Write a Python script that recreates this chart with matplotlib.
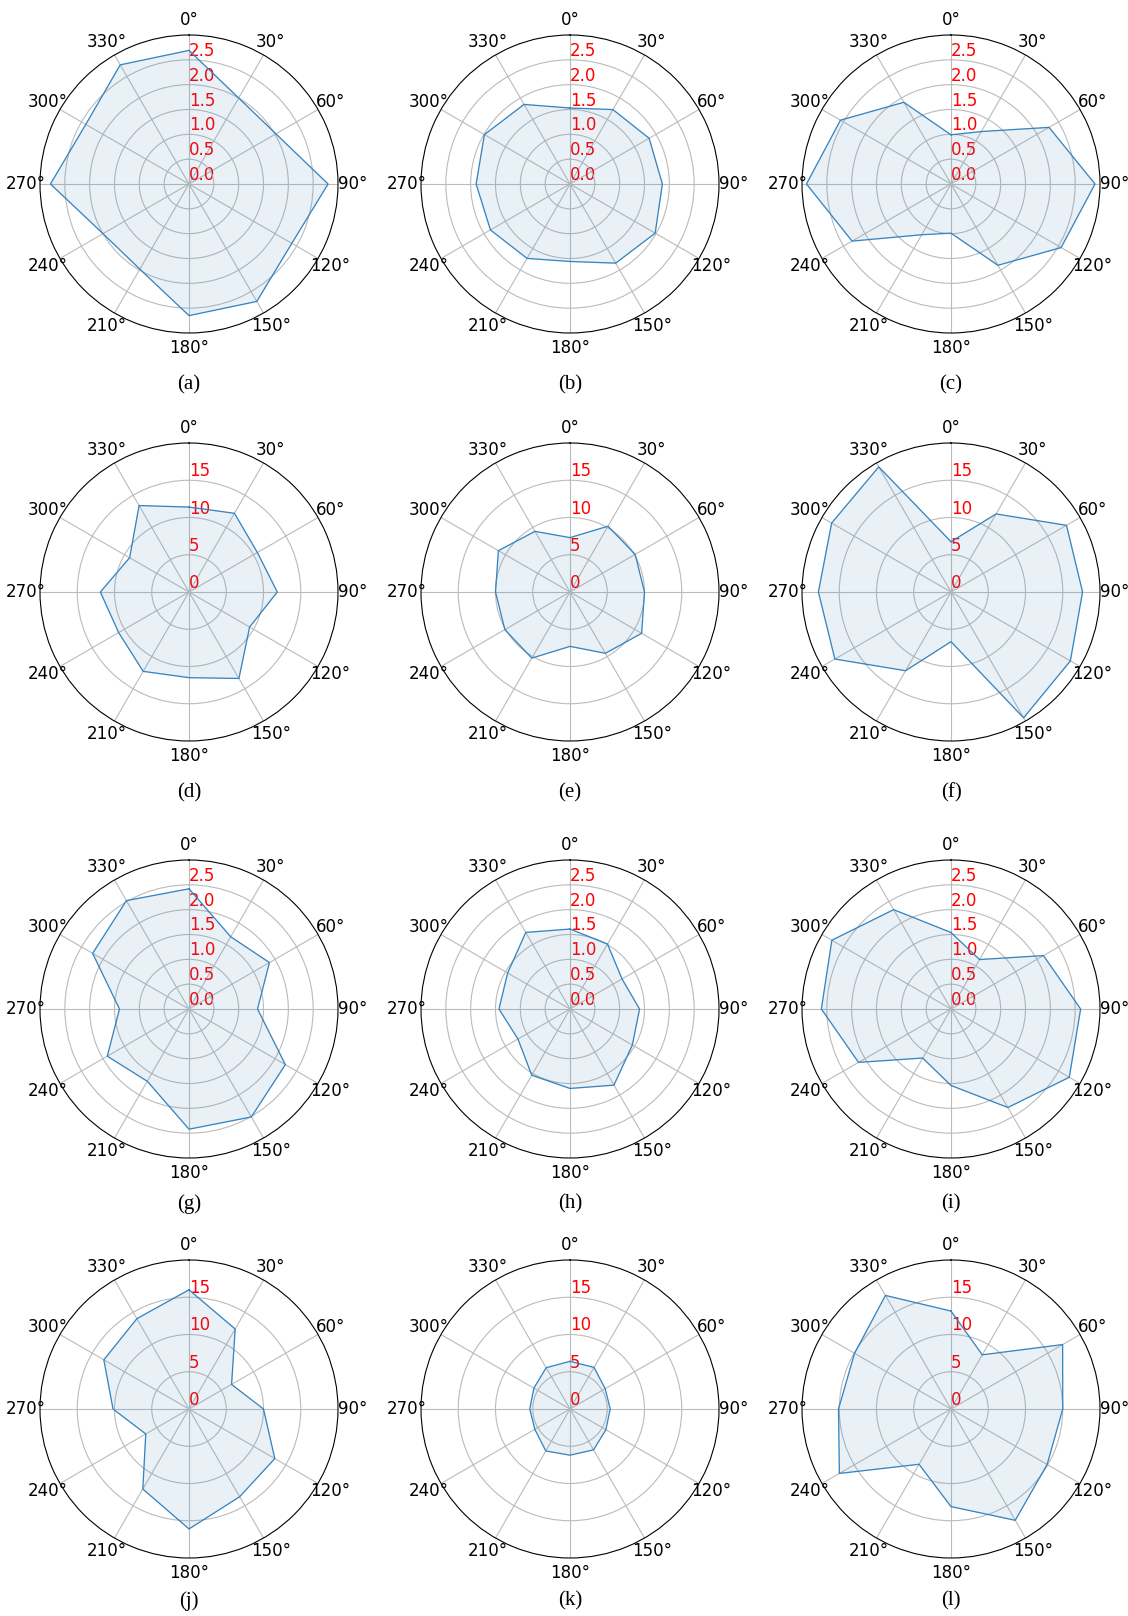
import numpy as np
import matplotlib
matplotlib.use("Agg")
import matplotlib.pyplot as plt

plt.rcParams["font.family"] = ["DejaVu Sans"]

# direction bins (degrees), one value per bin
angulos = np.arange(0, 360, 30)

val_a = [2.69, 2.00, 2.02, 2.80, 2.39, 2.73, 2.65, 1.98, 2.00, 2.79, 2.40, 2.77]
val_b = [1.53, 1.73, 1.84, 1.86, 1.98, 1.84, 1.56, 1.73, 1.85, 1.89, 1.99, 1.85]
val_c = [0.99, 1.22, 2.28, 2.90, 2.56, 1.89, 0.99, 1.18, 2.30, 2.91, 2.57, 1.90]
val_d = [11.4, 12.2, 10.6, 11.85, 9.4, 13.4, 11.5, 12.3, 10.9, 11.9, 9.2, 13.4]
val_e = [7.3, 10.2, 10.1, 10.0, 11.1, 9.5, 7.3, 10.25, 10.1, 10.0, 11.1, 9.4]
val_f = [6.75, 12.1, 17.9, 17.66, 18.5, 19.5, 6.67, 12.2, 18.0, 17.8, 18.5, 19.4]
val_g = [2.42, 1.68, 1.87, 1.38, 2.24, 2.51, 2.42, 1.68, 1.90, 1.40, 2.24, 2.52]
val_h = [1.61, 1.51, 1.21, 1.40, 1.45, 1.77, 1.60, 1.54, 1.21, 1.43, 1.45, 1.78]
val_i = [1.54, 1.15, 2.15, 2.61, 2.75, 2.29, 1.54, 1.14, 2.15, 2.61, 2.77, 2.31]
val_j = [16.0, 12.4, 6.6, 10.0, 13.3, 13.6, 16.1, 12.4, 6.7, 10.2, 13.2, 14.0]
val_k = [6.4, 6.45, 5.45, 5.4, 5.56, 6.33, 6.2, 6.5, 5.45, 5.4, 5.6, 6.4]
val_l = [13.15, 8.4, 17.3, 15.0, 14.9, 17.25, 13.1, 8.57, 17.3, 15.1, 14.95, 17.6]

paneles = [val_a, val_b, val_c, val_d, val_e, val_f,
           val_g, val_h, val_i, val_j, val_k, val_l]
letras = ["(a)", "(b)", "(c)", "(d)", "(e)", "(f)",
          "(g)", "(h)", "(i)", "(j)", "(k)", "(l)"]

ticks_chicos = [0, 0.5, 1.0, 1.5, 2.0, 2.5]
ticks_grandes = [0, 5, 10, 15]

W, H = 1128, 1616
cx = [189, 570, 951]
cy = [184, 592, 1009, 1409]
dy_letra = [201, 201, 195, 192]
R = 149

fig = plt.figure(figsize=(W / 100, H / 100), dpi=100)

for n, (vals, letra) in enumerate(zip(paneles, letras)):
    fila, col = n // 3, n % 3
    x0, y0 = cx[col], cy[fila]
    ax = fig.add_axes([(x0 - R) / W, 1 - (y0 + R) / H, 2 * R / W, 2 * R / H],
                      projection="polar")
    ax.set_theta_zero_location("N")
    ax.set_theta_direction(-1)

    th = np.deg2rad(np.append(angulos, angulos[0]))
    r = np.append(vals, vals[0])
    ax.fill(th, r, color="#2b7bba", alpha=0.1, zorder=2)
    ax.plot(th, r, color="#3584c0", linewidth=0.9, zorder=3)

    ax.set_thetagrids(angulos)
    if fila % 2 == 0:
        ax.set_rticks(ticks_chicos)
        ax.set_ylim(0, 3.0)
    else:
        ax.set_rticks(ticks_grandes)
        ax.set_ylim(0, 20)
    ax.set_rlabel_position(0)
    ax.tick_params(axis="y", labelcolor="red", labelsize=12)
    ax.tick_params(axis="x", labelsize=12, pad=0)
    ax.grid(True, color="#bbbbbb", linewidth=0.8)
    ax.spines["polar"].set_linewidth(0.8)

    fig.text(x0 / W, 1 - (y0 + dy_letra[fila]) / H, letra, ha="center",
             va="center", fontsize=15, family="Liberation Serif")

fig.savefig("out.png", dpi=100)
